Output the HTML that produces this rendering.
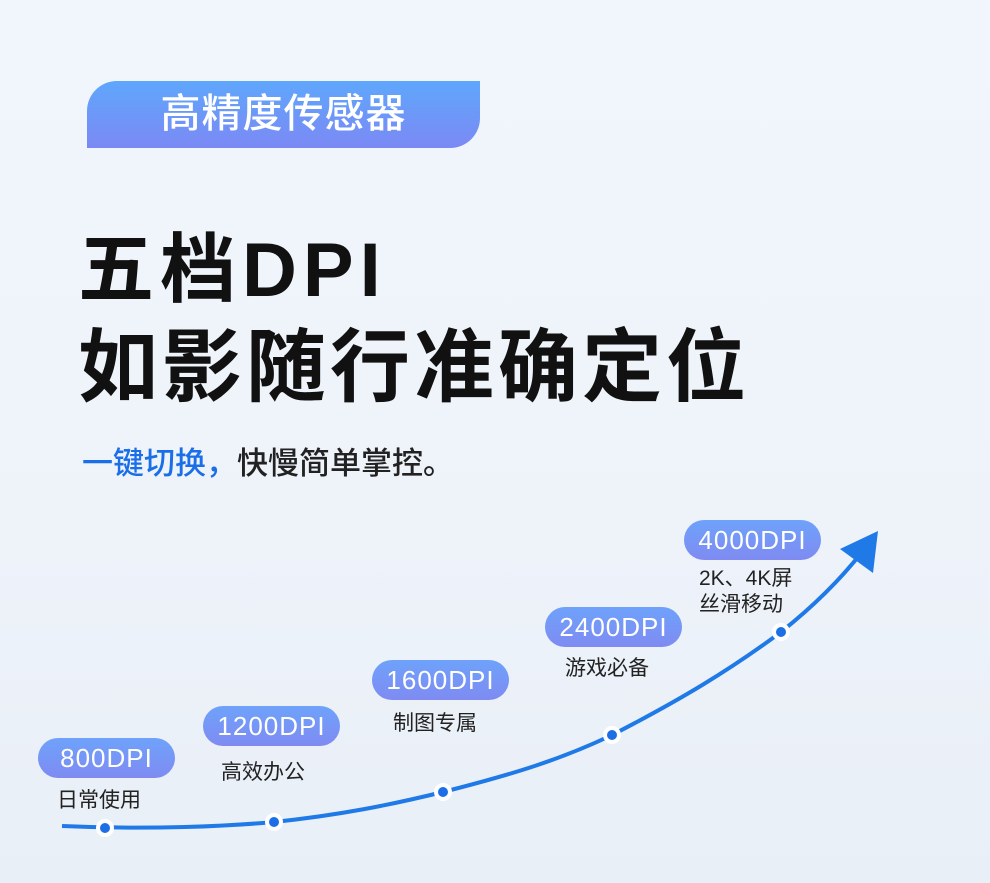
<!DOCTYPE html>
<html><head><meta charset="utf-8"><style>
body{margin:0;width:990px;height:883px;overflow:hidden;background:linear-gradient(180deg,#f1f6fc 0%,#eef3fa 60%,#e9eff7 100%);font-family:"Liberation Sans","Noto Sans CJK SC",sans-serif;position:relative}
.hdr{position:absolute;left:87px;top:81px;width:393px;height:67px;border-radius:30px 0 30px 0;background:linear-gradient(180deg,#5fa7fc,#7b89f4);color:#fff;font-size:40px;line-height:67px;text-align:center;letter-spacing:1px;font-weight:500}
.t{position:absolute;left:78px;color:#111;font-weight:bold;white-space:nowrap}
.sub{position:absolute;left:82px;top:438px;font-size:31px;color:#222;font-weight:500}
.pill{position:absolute;width:137px;height:40px;border-radius:20px;background:linear-gradient(180deg,#6ea2fb,#7f8bf2);color:#fff;font-size:26px;line-height:40px;text-align:center;letter-spacing:1px}
.lb{position:absolute;font-size:21px;color:#222;line-height:26px}
</style></head><body>
<div class="hdr">高精度传感器</div>
<div class="t" style="top:208px;font-size:76px;letter-spacing:6px">五档DPI</div>
<div class="t" style="top:303px;font-size:80px;letter-spacing:4px">如影随行准确定位</div>
<div class="sub"><span style="color:#1a6ee8">一键切换，</span>快慢简单掌控。</div>
<svg style="position:absolute;left:0;top:0" width="990" height="883">
<path d="M62,826 C150,830 230,826 274,822 C340,815 390,805 443,792 C510,775 560,760 612,735 C680,700 730,670 781,632 C815,605 840,580 862,552" fill="none" stroke="#1f7ae8" stroke-width="4"/>
<polygon points="878,531 840,549 873,573" fill="#1f7ae8"/>
<g fill="#1d6fe6" stroke="#fff" stroke-width="4">
<circle cx="105" cy="828" r="7"/><circle cx="274" cy="822" r="7"/><circle cx="443" cy="792" r="7"/><circle cx="612" cy="735" r="7"/><circle cx="781" cy="632" r="7"/></g>
</svg>
<div class="pill" style="left:38px;top:738px">800DPI</div>
<div class="lb" style="left:57px;top:788px">日常使用</div>
<div class="pill" style="left:203px;top:706px">1200DPI</div>
<div class="lb" style="left:221px;top:760px">高效办公</div>
<div class="pill" style="left:372px;top:660px">1600DPI</div>
<div class="lb" style="left:393px;top:711px">制图专属</div>
<div class="pill" style="left:545px;top:607px">2400DPI</div>
<div class="lb" style="left:565px;top:656px">游戏必备</div>
<div class="pill" style="left:684px;top:520px">4000DPI</div>
<div class="lb" style="left:699px;top:566px">2K、4K屏<br>丝滑移动</div>
</body></html>
